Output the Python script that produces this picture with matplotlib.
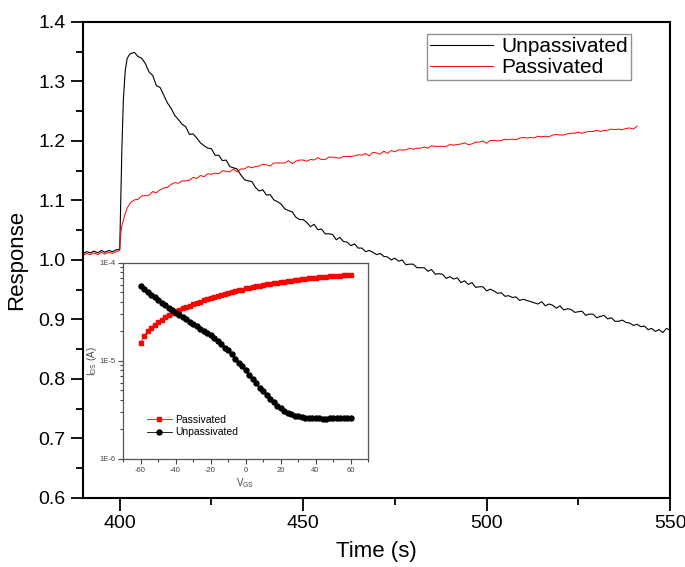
import matplotlib
matplotlib.use("Agg")
import matplotlib.pyplot as plt
import numpy as np
from matplotlib.ticker import MultipleLocator, LogLocator, FixedLocator, NullFormatter

plt.rcParams['font.family'] = ['Liberation Sans', 'DejaVu Sans']
plt.rcParams['axes.unicode_minus'] = False

# main transient, unpassivated (black)
unpass_base = [1.011, 1.014, 1.012, 1.015, 1.012, 1.016, 1.013, 1.016, 1.014, 1.017]
unpass_rise_t = [400, 400.3, 400.6, 401, 401.5, 402, 402.5, 403]
unpass_rise = [1.018, 1.100, 1.190, 1.270, 1.318, 1.338, 1.344, 1.347]
unpass_tail = [
    1.349, 1.342, 1.339, 1.330, 1.316, 1.310, 1.293, 1.290, 1.277, 1.264,
    1.255, 1.243, 1.236, 1.228, 1.224, 1.211, 1.212, 1.205, 1.197, 1.192,
    1.188, 1.187, 1.176, 1.176, 1.167, 1.168, 1.157, 1.155, 1.153, 1.143,
    1.135, 1.133, 1.132, 1.122, 1.116, 1.118, 1.109, 1.110, 1.101, 1.098,
    1.094, 1.086, 1.083, 1.081, 1.072, 1.068, 1.068, 1.063, 1.056, 1.060,
    1.051, 1.052, 1.044, 1.044, 1.043, 1.034, 1.038, 1.031, 1.030, 1.024,
    1.027, 1.020, 1.020, 1.014, 1.016, 1.013, 1.009, 1.011, 1.006, 1.005,
    1.000, 1.003, 0.998, 1.000, 0.992, 0.993, 0.993, 0.987, 0.987, 0.987,
    0.981, 0.984, 0.976, 0.977, 0.976, 0.969, 0.972, 0.968, 0.970, 0.962,
    0.965, 0.959, 0.962, 0.954, 0.955, 0.955, 0.948, 0.951, 0.948, 0.944,
    0.945, 0.939, 0.940, 0.937, 0.938, 0.932, 0.934, 0.932, 0.930, 0.928,
    0.926, 0.930, 0.923, 0.926, 0.924, 0.919, 0.923, 0.916, 0.918, 0.917,
    0.912, 0.913, 0.914, 0.907, 0.909, 0.909, 0.903, 0.905, 0.907, 0.901,
    0.903, 0.897, 0.897, 0.899, 0.895, 0.894, 0.890, 0.892, 0.888, 0.889,
    0.883, 0.885, 0.880, 0.883, 0.878, 0.885, 0.882]

# main transient, passivated (red)
pass_base = [1.008, 1.011, 1.009, 1.012, 1.009, 1.013, 1.010, 1.013, 1.011, 1.014]
pass_rise_t = [400, 400.3, 400.6, 401, 401.5, 402, 402.5, 403]
pass_rise = [1.016, 1.045, 1.058, 1.067, 1.078, 1.087, 1.092, 1.097]
pass_tail = [
    1.101, 1.102, 1.108, 1.108, 1.109, 1.115, 1.113, 1.118, 1.121, 1.122,
    1.127, 1.130, 1.129, 1.133, 1.133, 1.134, 1.139, 1.137, 1.142, 1.140,
    1.145, 1.144, 1.146, 1.145, 1.150, 1.149, 1.148, 1.153, 1.148, 1.153,
    1.153, 1.157, 1.155, 1.157, 1.158, 1.161, 1.160, 1.158, 1.163, 1.163,
    1.163, 1.163, 1.167, 1.162, 1.166, 1.168, 1.168, 1.166, 1.169, 1.168,
    1.172, 1.169, 1.169, 1.173, 1.173, 1.172, 1.171, 1.174, 1.174, 1.174,
    1.175, 1.177, 1.176, 1.179, 1.175, 1.181, 1.180, 1.178, 1.183, 1.179,
    1.184, 1.182, 1.185, 1.185, 1.185, 1.188, 1.186, 1.188, 1.188, 1.190,
    1.188, 1.192, 1.191, 1.191, 1.191, 1.191, 1.194, 1.193, 1.194, 1.195,
    1.197, 1.194, 1.195, 1.198, 1.198, 1.200, 1.196, 1.201, 1.201, 1.200,
    1.201, 1.203, 1.202, 1.203, 1.202, 1.205, 1.206, 1.205, 1.206, 1.205,
    1.208, 1.207, 1.208, 1.207, 1.210, 1.211, 1.210, 1.210, 1.212, 1.213,
    1.213, 1.215, 1.213, 1.215, 1.216, 1.216, 1.218, 1.216, 1.218, 1.218,
    1.220, 1.219, 1.220, 1.219, 1.221, 1.222, 1.220, 1.225]

# inset transfer curves
vgs = np.arange(-60, 61, 2)
ids_pass = np.array([
    1.53, 1.80, 2.00, 2.18, 2.35, 2.50, 2.64, 2.78, 2.94, 3.10,
    3.22, 3.33, 3.45, 3.57, 3.68, 3.80, 3.92, 4.03, 4.15, 4.27,
    4.40, 4.50, 4.61, 4.72, 4.83, 4.94, 5.05, 5.15, 5.25, 5.36,
    5.50, 5.58, 5.68, 5.77, 5.86, 5.95, 6.04, 6.13, 6.22, 6.30,
    6.39, 6.47, 6.55, 6.62, 6.70, 6.77, 6.84, 6.90, 6.97, 7.03,
    7.09, 7.15, 7.21, 7.26, 7.31, 7.36, 7.41, 7.45, 7.49, 7.53,
    7.56]) * 1e-5
ids_unpass = np.array([
    58.0, 54.0, 50.5, 47.5, 44.5, 42.0, 39.5, 37.0, 35.0, 33.0,
    31.0, 29.5, 28.0, 26.5, 25.0, 23.8, 22.5, 21.3, 20.2, 19.2,
    18.2, 17.1, 16.0, 14.8, 13.7, 12.8, 11.7, 10.6, 9.6, 8.8,
    8.0, 7.2, 6.5, 5.9, 5.35, 4.9, 4.45, 4.1, 3.8, 3.5,
    3.28, 3.1, 2.95, 2.85, 2.77, 2.72, 2.68, 2.65, 2.63, 2.61,
    2.60, 2.59, 2.58, 2.58, 2.59, 2.60, 2.61, 2.62, 2.63, 2.63,
    2.64]) * 1e-6

t_unpass = np.concatenate([np.arange(390, 400), unpass_rise_t,
                           404 + np.arange(len(unpass_tail))])
y_unpass = np.concatenate([unpass_base, unpass_rise, unpass_tail])
t_pass = np.concatenate([np.arange(390, 400), pass_rise_t,
                         404 + np.arange(len(pass_tail))])
y_pass = np.concatenate([pass_base, pass_rise, pass_tail])

fig = plt.figure(figsize=(6.85, 5.67), dpi=100)
ax = fig.add_axes([0.1212, 0.1217, 0.857, 0.8395])

ax.plot(t_unpass, y_unpass, color='black', lw=0.8, label='Unpassivated')
ax.plot(t_pass, y_pass, color='red', lw=0.7, label='Passivated')

ax.set_xlim(390, 550)
ax.set_ylim(0.6, 1.4)
ax.xaxis.set_major_locator(FixedLocator([400, 450, 500, 550]))
ax.xaxis.set_minor_locator(FixedLocator([425, 475, 525]))
ax.yaxis.set_major_locator(MultipleLocator(0.1))
ax.yaxis.set_minor_locator(MultipleLocator(0.05))
ax.tick_params(which='both', direction='out', top=False, right=False,
               labelsize=14, width=1.3)
ax.tick_params(which='major', length=9)
ax.tick_params(which='minor', length=5)
for s in ax.spines.values():
    s.set_linewidth(1.5)
ax.set_xlabel('Time (s)', fontsize=16, labelpad=6)
ax.set_ylabel('Response', fontsize=16, labelpad=8)

leg = ax.legend(loc='upper left', bbox_to_anchor=(0.586, 0.975), fontsize=15,
                frameon=True, fancybox=False, handlelength=3.0,
                borderpad=0.15, labelspacing=0.1, handletextpad=0.4,
                borderaxespad=0)
leg.get_frame().set_edgecolor('#777777')
leg.get_frame().set_linewidth(1.0)

# inset
axi = fig.add_axes([0.1796, 0.1905, 0.3577, 0.3457])
axi.plot(vgs, ids_pass, color='red', marker='s', ms=3.2, lw=0.6,
         label='Passivated')
axi.plot(vgs, ids_unpass, color='black', marker='o', ms=3.6, lw=0.6,
         label='Unpassivated')
axi.set_yscale('log')
axi.set_xlim(-70, 70)
axi.set_ylim(1e-6, 1e-4)
axi.xaxis.set_major_locator(MultipleLocator(20))
axi.xaxis.set_minor_locator(MultipleLocator(10))
axi.yaxis.set_minor_locator(LogLocator(base=10, subs=np.arange(2, 10), numticks=20))
axi.yaxis.set_minor_formatter(NullFormatter())
axi.set_yticks([1e-6, 1e-5, 1e-4])
axi.set_yticklabels(['1E-6', '1E-5', '1E-4'])
axi.tick_params(which='both', direction='out', top=False, right=False,
                labelsize=5.5, colors='#444444', width=0.8, pad=2)
axi.tick_params(which='major', length=3.5)
axi.tick_params(which='minor', length=2)
for s in axi.spines.values():
    s.set_linewidth(0.9)
    s.set_color('#555555')
axi.set_xlabel(r'V$_{\mathregular{GS}}$', fontsize=7, color='#444444', labelpad=2)
axi.set_ylabel(r'I$_{\mathregular{DS}}$ (A)', fontsize=7, color='#444444')
axi.yaxis.set_label_coords(-0.10, 0.5)
axi.legend(loc='lower left', bbox_to_anchor=(0.08, 0.09), fontsize=7.5,
           frameon=False, handlelength=2.4, labelspacing=0.2,
           handletextpad=0.3, borderaxespad=0)

fig.savefig('out.png', dpi=100)
